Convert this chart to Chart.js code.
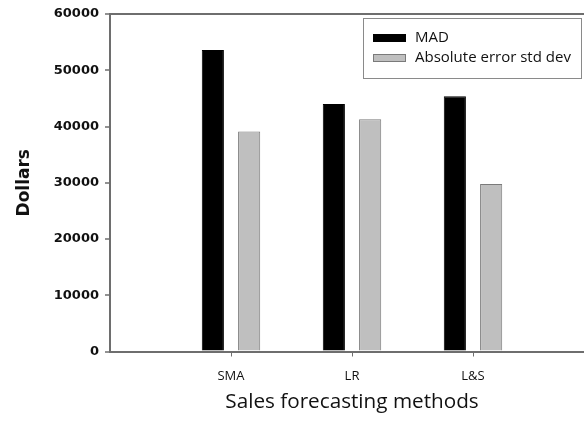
<!DOCTYPE html>
<html>
<head>
<meta charset="utf-8">
<script src="https://cdn.jsdelivr.net/npm/chart.js@4.4.1/dist/chart.umd.min.js"></script>
<style>
  html, body { margin: 0; padding: 0; background: #fff; overflow: hidden; }
  #salesChart { display: block; }
</style>
</head>
<body>
<canvas id="salesChart" width="606" height="427"></canvas>
<script>
// categories (blank slots at both ends keep the gap the original axis has)
const methods = ['', 'SMA', 'LR', 'L&S', ''];
const madValues = [null, 53600, 44000, 45400, null];
const stdDevValues = [null, 39100, 41300, 29800, null];
const yTicks = [0, 10000, 20000, 30000, 40000, 50000, 60000];

const axisColor = '#6e6e6e';

// legend drawn as a framed box in the top right corner
const boxLegend = {
    id: 'boxLegend',
    afterDraw(chart) {
        const ctx = chart.ctx;
        const x = 363, y = 18, w = 218, h = 60;
        ctx.save();
        ctx.fillStyle = '#fff';
        ctx.fillRect(x, y, w, h);
        ctx.strokeStyle = '#8a8a8a';
        ctx.lineWidth = 1;
        ctx.strokeRect(x + 0.5, y + 0.5, w, h);
        ctx.font = '15px "Open Sans"';
        ctx.textBaseline = 'middle';
        chart.data.datasets.forEach((ds, i) => {
            const cy = 38 + i * 20;
            ctx.fillStyle = ds.backgroundColor;
            ctx.fillRect(373, cy - 4, 33, 8);
            ctx.strokeStyle = ds.borderColor;
            ctx.strokeRect(373.5, cy - 3.5, 32, 7);
            ctx.fillStyle = '#111';
            ctx.fillText(ds.label, 415, cy);
        });
        ctx.restore();
    }
};

const ctx = document.getElementById('salesChart').getContext('2d');
const chart = new Chart(ctx, {
    type: 'bar',
    data: {
        labels: methods,
        datasets: [{
            label: 'MAD',
            data: madValues,
            backgroundColor: '#000000',
            borderColor: '#000000',
            borderWidth: 1
        }, {
            label: 'Absolute error std dev',
            data: stdDevValues,
            backgroundColor: '#bfbfbf',
            borderColor: '#7a7a7a',
            borderWidth: 1
        }]
    },
    options: {
        responsive: false,
        animation: false,
        categoryPercentage: 0.6,
        barPercentage: 0.61,
        layout: { padding: { top: 14, right: 0, left: 0, bottom: 0 } },
        plugins: {
            legend: { display: false },
            tooltip: { enabled: false }
        },
        scales: {
            x: {
                offset: false,
                afterFit: (scale) => { scale.height = 75.5; },
                border: { display: true, color: axisColor, width: 2 },
                grid: {
                    offset: false,
                    drawOnChartArea: false,
                    tickLength: 5,
                    color: (c) => (c.tick && c.tick.label) ? axisColor : 'rgba(0,0,0,0)'
                },
                ticks: {
                    color: '#111',
                    font: { family: 'Open Sans', size: 13 },
                    padding: 12,
                    maxRotation: 0,
                    autoSkip: false
                },
                title: {
                    display: true,
                    text: 'Sales forecasting methods',
                    color: '#111',
                    font: { family: 'Open Sans', size: 20.7 },
                    padding: { top: 0, bottom: 12 }
                }
            },
            y: {
                min: 0,
                max: 60000,
                afterFit: (scale) => { scale.width = 110; },
                afterBuildTicks: (scale) => { scale.ticks = yTicks.map(v => ({ value: v })); },
                border: { display: true, color: axisColor, width: 2 },
                grid: {
                    drawOnChartArea: true,
                    tickLength: 5,
                    lineWidth: 2,
                    tickWidth: 1.5,
                    tickColor: axisColor,
                    color: (c) => (c.tick && c.tick.value === 60000) ? axisColor : 'rgba(0,0,0,0)'
                },
                ticks: {
                    color: '#111',
                    font: { family: 'DejaVu Sans', size: 13, weight: 'bold' },
                    padding: 6,
                    callback: (v) => String(v)
                },
                title: {
                    display: true,
                    text: 'Dollars',
                    color: '#111',
                    font: { family: 'DejaVu Sans', size: 17, weight: 'bold' },
                    padding: { top: 14, bottom: 0 }
                }
            }
        }
    },
    plugins: [boxLegend]
});
</script>
</body>
</html>
